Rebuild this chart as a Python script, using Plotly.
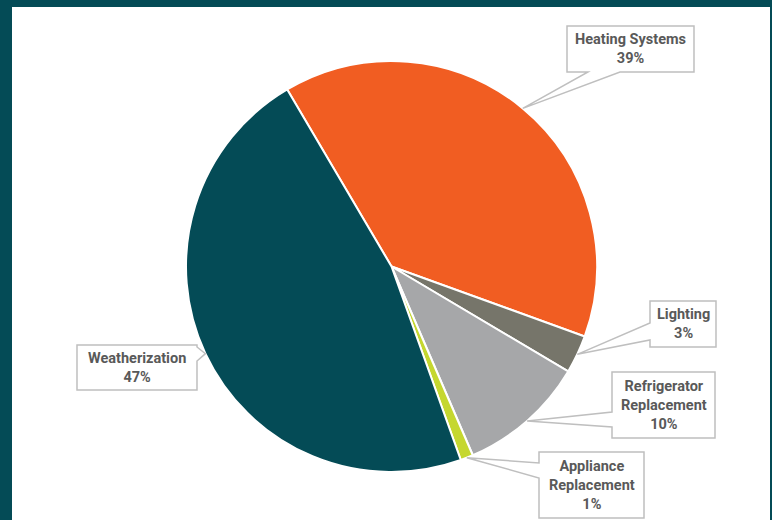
import math
import plotly.graph_objects as go

# Share of program spending by measure (percent)
categories = ["Heating Systems", "Lighting", "Refrigerator Replacement",
              "Appliance Replacement", "Weatherization"]
shares = [39, 3, 10, 1, 47]
label_lines = [["Heating Systems"], ["Lighting"], ["Refrigerator", "Replacement"],
               ["Appliance", "Replacement"], ["Weatherization"]]
slice_colors = ["#F15D22", "#76756A", "#A6A7A9", "#C5D72F", "#044B56"]

W, H = 772, 520
BG = "#044B56"
CX, CY, R = 391.5, 266.5, 205.5     # pie centre and radius in px
START = -30.5                        # first slice edge, degrees clockwise from 12 o'clock

# Callout boxes in px (left, top, right, bottom), which side the tail leaves from,
# and the two points along that side where the tail joins the box.
callouts = [
    dict(box=(567, 26, 694, 72), edge="bottom", base=(588, 620)),
    dict(box=(650, 301, 716, 347), edge="left", base=(323, 340)),
    dict(box=(612, 372, 715, 438), edge="left", base=(412, 427)),
    dict(box=(539, 452, 644, 518), edge="left", base=(463, 478)),
    dict(box=(77, 345, 197, 390), edge="right", base=(347, 361)),
]


def px(x):
    return x / W


def py(y):
    return 1 - y / H


def callout_path(box, edge, base, tip):
    x0, y0, x1, y1 = box
    a, b = base
    pts = [(x0, y0)]
    if edge == "top":
        pts += [(a, y0), tip, (b, y0)]
    pts.append((x1, y0))
    if edge == "right":
        pts += [(x1, a), tip, (x1, b)]
    pts.append((x1, y1))
    if edge == "bottom":
        pts += [(b, y1), tip, (a, y1)]
    pts.append((x0, y1))
    if edge == "left":
        pts += [(x0, b), tip, (x0, a)]
    return "M " + " L ".join(f"{px(x):.5f},{py(y):.5f}" for x, y in pts) + " Z"


fig = go.Figure(go.Pie(
    labels=categories,
    values=shares,
    sort=False,
    direction="clockwise",
    rotation=360 + START,
    marker=dict(colors=slice_colors, line=dict(color="white", width=2)),
    textinfo="none",
    hoverinfo="label+percent",
    showlegend=False,
    domain=dict(x=[px(CX - R), px(CX + R)], y=[py(CY + R), py(CY - R)]),
))

shapes = [dict(type="rect", xref="paper", yref="paper", layer="below",
               x0=px(12), x1=px(770), y0=0, y1=py(7),
               fillcolor="white", line=dict(width=0))]
annotations = []

total = sum(shares)
cum = 0
for lines, v, c in zip(label_lines, shares, callouts):
    mid = math.radians(START + 360 * (cum + v / 2) / total)
    cum += v
    tip = (CX + R * math.sin(mid), CY - R * math.cos(mid))
    shapes.append(dict(type="path", xref="paper", yref="paper", layer="above",
                       path=callout_path(c["box"], c["edge"], c["base"], tip),
                       fillcolor="white", line=dict(color="#BFBFBF", width=1.5)))
    x0, y0, x1, y1 = c["box"]
    text = "<br>".join(f"<b>{t}</b>" for t in lines + [f"{v}%"])
    annotations.append(dict(x=px((x0 + x1) / 2), y=py((y0 + y1) / 2),
                            xref="paper", yref="paper", xanchor="center",
                            yanchor="middle", showarrow=False, align="center",
                            text=text,
                            font=dict(family="Roboto", size=14.5, color="#595959")))

fig.update_layout(
    width=W, height=H,
    margin=dict(l=0, r=0, t=0, b=0),
    paper_bgcolor=BG,
    plot_bgcolor=BG,
    shapes=shapes,
    annotations=annotations,
)

fig.write_html("out.html")
